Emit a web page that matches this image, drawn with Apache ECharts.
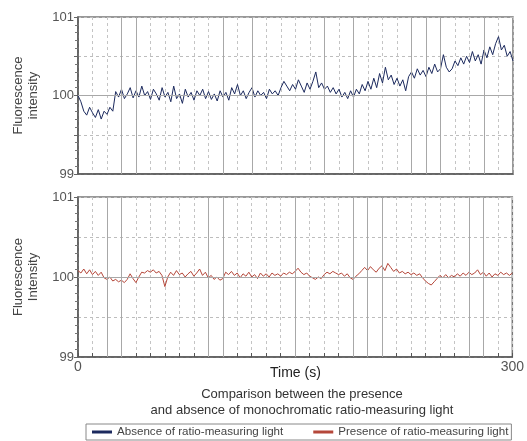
<!DOCTYPE html>
<html>
<head>
<meta charset="utf-8">
<script src="https://cdn.jsdelivr.net/npm/echarts@6/dist/echarts.min.js"></script>
<style>
  html, body { margin: 0; padding: 0; background: #fff; }
  #main { width: 527px; height: 441px; }
</style>
</head>
<body>
<div id="main"></div>
<script>
// sampling step of both traces (s)
var timeStep = 2;

// absence of ratio-measuring light (top panel)
var absenceValues = [
  100.00, 99.92, 99.80, 99.75, 99.85, 99.78, 99.72, 99.82, 99.70, 99.80,
  99.76, 99.85, 99.80, 100.05, 99.98, 100.08, 99.96, 100.02, 100.10, 99.97,
  100.06, 99.98, 100.12, 100.00, 100.05, 99.95, 100.08, 100.02, 99.94, 100.10,
  99.98, 100.04, 99.92, 100.12, 99.96, 100.02, 99.90, 100.08, 99.98, 100.04,
  99.94, 100.06, 100.00, 100.08, 99.96, 100.05, 99.95, 100.02, 99.93, 100.06,
  99.98, 100.04, 99.94, 100.10, 100.02, 100.14, 100.00, 100.06, 99.96, 100.04,
  100.10, 99.98, 100.06, 100.00, 100.04, 99.96, 100.08, 100.02, 100.06, 100.00,
  100.10, 100.18, 100.12, 100.06, 100.14, 100.08, 100.20, 100.12, 100.04, 100.16,
  100.08, 100.18, 100.30, 100.10, 100.16, 100.08, 100.12, 100.04, 100.10, 100.02,
  100.08, 99.98, 100.04, 99.96, 100.06, 99.98, 100.08, 100.02, 100.14, 100.06,
  100.18, 100.08, 100.22, 100.10, 100.28, 100.16, 100.36, 100.20, 100.26, 100.14,
  100.22, 100.12, 100.20, 100.06, 100.24, 100.30, 100.22, 100.34, 100.26, 100.32,
  100.24, 100.36, 100.28, 100.40, 100.30, 100.34, 100.52, 100.36, 100.30, 100.34,
  100.44, 100.38, 100.48, 100.40, 100.50, 100.42, 100.56, 100.44, 100.52, 100.40,
  100.58, 100.48, 100.62, 100.52, 100.66, 100.75, 100.58, 100.64, 100.50, 100.56,
  100.44
];

// presence of ratio-measuring light (bottom panel)
var presenceValues = [
  100.08, 100.05, 100.10, 100.04, 100.09, 100.03, 100.07, 100.02, 100.06, 99.99,
  99.97, 100.00, 99.95, 99.97, 99.94, 99.96, 99.93, 99.97, 100.04, 99.98,
  99.93, 100.00, 100.06, 100.05, 100.08, 100.06, 100.09, 100.05, 100.07, 100.02,
  99.88, 100.00, 100.06, 100.02, 100.08, 100.03, 100.05, 100.00, 100.04, 100.07,
  100.01, 100.05, 100.10, 100.02, 100.06, 99.99, 100.02, 99.97, 100.00, 99.96,
  99.98, 100.06, 100.03, 100.07, 100.02, 100.05, 99.99, 100.04, 100.01, 100.06,
  100.00, 100.03, 99.98, 100.05, 100.01, 100.04, 100.00, 100.05, 100.02, 100.04,
  100.01, 100.05, 100.03, 100.06, 100.04, 100.07, 100.11, 100.06, 100.03, 100.05,
  100.01, 99.99, 99.97, 100.00, 99.98, 100.03, 100.06, 100.04, 100.07, 100.05,
  100.03, 100.05, 100.01, 100.04, 99.99, 99.97, 100.01, 100.04, 100.08, 100.12,
  100.08, 100.13, 100.09, 100.06, 100.11, 100.14, 100.08, 100.17, 100.12, 100.07,
  100.10, 100.05, 100.07, 100.04, 100.06, 100.03, 100.05, 100.02, 100.04, 99.99,
  99.95, 99.92, 99.90, 99.94, 99.98, 100.02, 99.99, 100.03, 99.99, 100.02,
  100.00, 100.04, 100.01, 100.05, 100.02, 100.06, 100.03, 100.05, 100.09, 100.03,
  100.06, 100.01, 100.05, 100.00, 100.04, 100.02, 100.06, 100.03, 100.05, 100.02,
  100.05
];

// times (s) where the scanned grid shows solid instead of dashed lines
var solidLinesTop = [30, 40, 100, 120, 170, 190, 230, 240, 250, 280];
var solidLinesBottom = [20, 30, 90, 100, 150, 190, 200, 210, 270, 280];

var xLabels = [0, 300];
var yLabels = [99, 100, 101];

var seriesNames = ['Absence of ratio-measuring light', 'Presence of ratio-measuring light'];
var colors = ['#1c2a5e', '#b5473a'];

function toPairs(values) {
  var out = [];
  for (var i = 0; i < values.length; i++) {
    out.push([i * timeStep, values[i]]);
  }
  return out;
}

function marks(list) {
  var d = [];
  for (var i = 0; i < list.length; i++) d.push({ xAxis: list[i] });
  d.push({ yAxis: 100 });
  return d;
}

var font = '"Liberation Sans", Arial, sans-serif';

function xAxisCfg(gridIndex, withLabels) {
  return {
    type: 'value', gridIndex: gridIndex, min: 0, max: 300, interval: 10,
    axisLine: { lineStyle: { color: '#555', width: 1.5 } },
    axisTick: { show: withLabels, inside: true, length: 4, lineStyle: { color: '#555' } },
    axisLabel: {
      show: withLabels, margin: 3, fontSize: 14, color: '#555', fontFamily: font,
      showMinLabel: true, showMaxLabel: true,
      formatter: function (v) { return xLabels.indexOf(v) >= 0 ? v : ''; }
    },
    splitLine: { show: true, lineStyle: { color: '#c4c4c4', type: [3, 3], width: 1 } }
  };
}

function yAxisCfg(gridIndex, name) {
  return {
    type: 'value', gridIndex: gridIndex, min: 99, max: 101, interval: 0.5,
    name: name, nameLocation: 'middle', nameGap: 37,
    nameTextStyle: { fontSize: 13, color: '#444', lineHeight: 15, fontFamily: font },
    axisLine: { show: true, lineStyle: { color: '#555', width: 1.5 } },
    axisTick: { show: true, length: 4, lineStyle: { color: '#666' } },
    minorTick: { show: true, splitNumber: 5, length: 3, lineStyle: { color: '#777' } },
    axisLabel: {
      margin: 4, fontSize: 13, color: '#555', fontFamily: font,
      formatter: function (v) { return yLabels.indexOf(v) >= 0 ? v : ''; }
    },
    splitLine: { show: true, lineStyle: { color: '#bdbdbd', type: [3, 3], width: 1 } }
  };
}

var markStyle = { color: '#a8a8a8', type: 'solid', width: 1 };

var chart = echarts.init(document.getElementById('main'));
chart.setOption({
  animation: false,
  backgroundColor: '#fff',
  title: {
    text: 'Comparison between the presence\nand absence of monochromatic ratio-measuring light',
    left: 297, top: 381, textAlign: 'center',
    textStyle: { fontSize: 13, fontWeight: 'normal', color: '#333', lineHeight: 16, fontFamily: font }
  },
  graphic: [{
    type: 'text', left: 270, top: 366,
    style: { text: 'Time (s)', fontSize: 14, fill: '#222', fontFamily: font }
  }],
  legend: {
    data: seriesNames,
    left: 86, top: 424,
    icon: 'rect', itemWidth: 20, itemHeight: 3, itemGap: 30,
    borderColor: '#888', borderWidth: 1, borderRadius: 0, padding: [2, 3, 2, 6],
    textStyle: { fontSize: 11.6, color: '#444', fontFamily: font }
  },
  grid: [
    { left: 78, right: 14, top: 17, height: 157, show: true, borderColor: '#777', borderWidth: 1.5 },
    { left: 78, right: 14, top: 197, height: 160, show: true, borderColor: '#777', borderWidth: 1.5 }
  ],
  xAxis: [xAxisCfg(0, false), xAxisCfg(1, true)],
  yAxis: [yAxisCfg(0, 'Fluorescence\nintensity'), yAxisCfg(1, 'Fluorescence\nIntensity')],
  series: [
    {
      name: seriesNames[0], type: 'line', xAxisIndex: 0, yAxisIndex: 0,
      data: toPairs(absenceValues), showSymbol: false, smooth: false,
      lineStyle: { color: colors[0], width: 1 }, itemStyle: { color: colors[0] },
      markLine: { silent: true, symbol: 'none', label: { show: false }, lineStyle: markStyle, data: marks(solidLinesTop) },
      z: 3
    },
    {
      name: seriesNames[1], type: 'line', xAxisIndex: 1, yAxisIndex: 1,
      data: toPairs(presenceValues), showSymbol: false, smooth: false,
      lineStyle: { color: colors[1], width: 1 }, itemStyle: { color: colors[1] },
      markLine: { silent: true, symbol: 'none', label: { show: false }, lineStyle: markStyle, data: marks(solidLinesBottom) },
      z: 3
    }
  ]
});
</script>
</body>
</html>
